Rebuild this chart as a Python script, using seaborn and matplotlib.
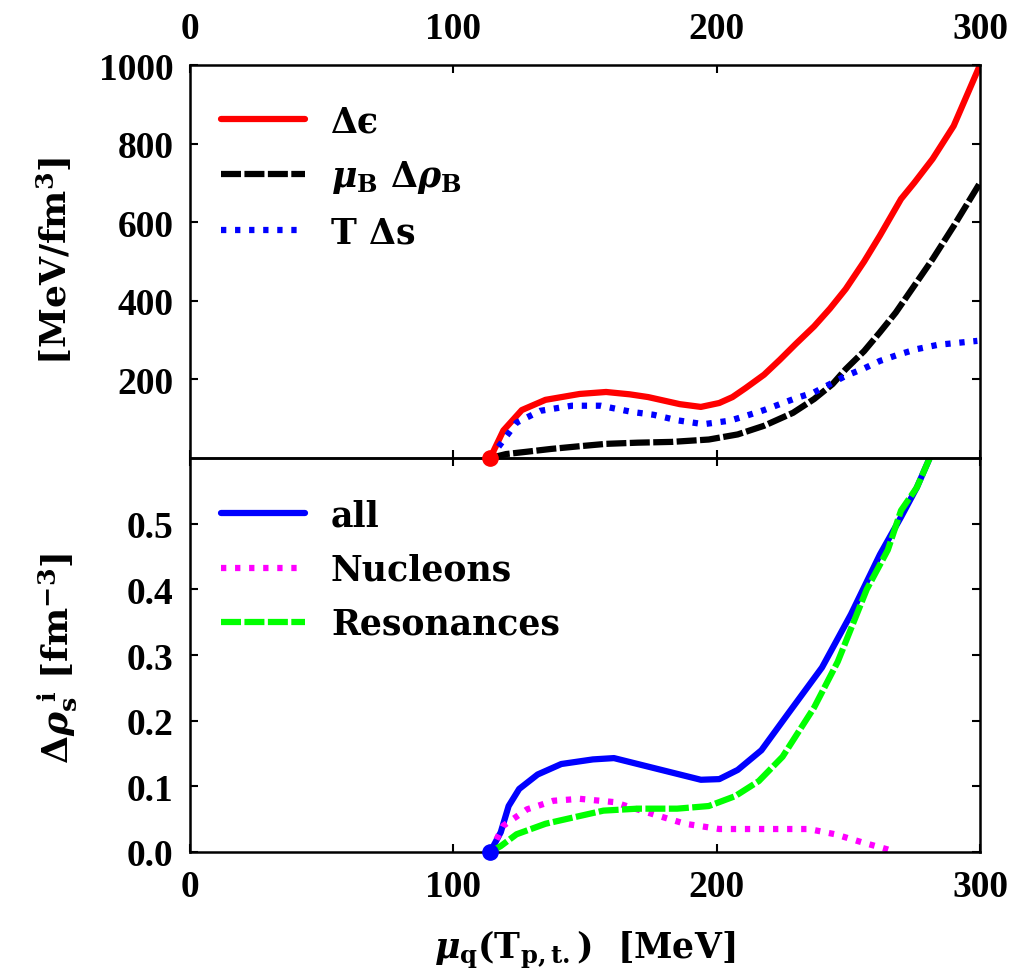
import numpy as np
import pandas as pd
import matplotlib
matplotlib.use("Agg")
import matplotlib.pyplot as plt
import seaborn as sns

# ---- upper panel: energy-density decomposition [MeV/fm^3] ----
mu_eps = [114, 119, 126, 135, 148, 158, 167, 174, 186, 194, 201, 206, 211,
          218, 224, 230, 237, 243, 249, 256, 262, 270, 275, 282, 290, 300]
d_eps = [0, 70, 122, 148, 163, 168, 162, 155, 137, 130, 140, 155, 178,
         212, 250, 290, 335, 380, 430, 500, 566, 659, 700, 761, 845, 1000]

mu_rho = [114, 120, 128, 137, 148, 158, 170, 183, 197, 208, 218, 229, 237,
          244, 249, 256, 262, 268, 275, 282, 290, 300]
mu_drho = [0, 10, 16, 23, 30, 36, 39, 41, 47, 60, 82, 115, 150,
           188, 226, 272, 320, 370, 438, 506, 590, 700]

mu_s = [114, 118, 124, 133, 145, 156, 168, 176, 185, 195, 205, 211, 218,
        224, 230, 237, 243, 249, 256, 262, 269, 276, 284, 299]
t_ds = [0, 36, 90, 120, 133, 133, 117, 110, 96, 86, 95, 107, 122,
        137, 152, 167, 188, 209, 228, 247, 263, 277, 288, 298]

# ---- lower panel: density differences [fm^-3] ----
mu_all = [114, 118, 121, 125, 132, 141, 153, 161, 170, 182, 194, 201, 208,
          217, 227, 240, 251, 262, 270, 276, 282]
rho_all = [0, 0.03, 0.07, 0.096, 0.118, 0.134, 0.141, 0.143, 0.134, 0.122,
           0.110, 0.111, 0.125, 0.155, 0.21, 0.281, 0.362, 0.453, 0.51, 0.555, 0.61]

mu_nuc = [114, 119, 128, 138, 148, 161, 173, 188, 201, 218, 235, 245, 255, 264, 268]
rho_nuc = [0, 0.04, 0.065, 0.078, 0.081, 0.076, 0.061, 0.043, 0.035, 0.035,
           0.035, 0.027, 0.015, 0.005, 0.0]

mu_res = [114, 118, 124, 135, 146, 157, 170, 185, 197, 207, 216, 225, 237,
          246, 257, 265, 270, 276, 282]
rho_res = [0, 0.009, 0.027, 0.043, 0.053, 0.063, 0.066, 0.066, 0.07, 0.085,
           0.108, 0.145, 0.22, 0.29, 0.40, 0.46, 0.52, 0.555, 0.61]

mu_start = 114

x_ticks = [0, 100, 200, 300]
top_yticks = [200, 400, 600, 800, 1000]
bot_yticks = [0.0, 0.1, 0.2, 0.3, 0.4, 0.5]

top_labels = ["Δϵ", r"$\mu_\mathbf{B}\ \Delta\rho_\mathbf{B}$", "T Δs"]
bot_labels = ["all", "Nucleons", "Resonances"]

sns.set_theme(style="white")
plt.rcParams.update({
    "font.family": ["DejaVu Serif", "DejaVu Sans"],
    "font.weight": "bold",
    "mathtext.fontset": "custom",
    "mathtext.rm": "DejaVu Serif:bold",
    "mathtext.it": "DejaVu Serif:italic:bold",
    "mathtext.bf": "DejaVu Serif:bold",
    "axes.edgecolor": "black",
    "axes.linewidth": 1.8,
    "text.color": "black",
    "axes.labelcolor": "black",
    "xtick.color": "black",
    "ytick.color": "black",
})

W, H = 1021, 979
fig = plt.figure(figsize=(W / 100, H / 100), dpi=100)
L, R, T, M, B = 190, 980, 66, 459, 853
ax2 = fig.add_axes([L / W, 1 - B / H, (R - L) / W, (B - M) / H])
ax1 = fig.add_axes([L / W, 1 - M / H, (R - L) / W, (M - T) / H])
ax1.set_facecolor("none")

LW = 4.5
tick_font = dict(family="Liberation Serif", weight="bold", size=27, color="black")

# upper panel curves
sns.lineplot(x=mu_eps, y=d_eps, ax=ax1, color="#ff0000", lw=LW,
             label=top_labels[0], solid_capstyle="round")
sns.lineplot(x=mu_rho, y=mu_drho, ax=ax1, color="black", lw=LW,
             linestyle=(0, (3.2, 0.55)), dash_capstyle="butt", label=top_labels[1])
sns.lineplot(x=mu_s, y=t_ds, ax=ax1, color="#0000ff", lw=LW,
             linestyle=(0, (0.85, 1.4)), dash_capstyle="butt", label=top_labels[2])
ax1.plot([mu_start], [0], "o", color="#ff0000", ms=11, clip_on=False, zorder=5)

# lower panel curves
sns.lineplot(x=mu_all, y=rho_all, ax=ax2, color="#0000ff", lw=LW,
             label=bot_labels[0])
sns.lineplot(x=mu_nuc, y=rho_nuc, ax=ax2, color="#ff00ff", lw=LW,
             linestyle=(0, (0.85, 1.4)), dash_capstyle="butt", label=bot_labels[1])
sns.lineplot(x=mu_res, y=rho_res, ax=ax2, color="#00ff00", lw=LW,
             linestyle=(0, (3.2, 0.55)), dash_capstyle="butt", label=bot_labels[2])
ax2.plot([mu_start], [0], "o", color="#0000ff", ms=11, clip_on=False, zorder=5)

for ax in (ax1, ax2):
    ax.set_xlim(0, 300)
    ax.set_xticks(x_ticks)
    ax.tick_params(direction="in", length=6, width=1.5, top=True, bottom=True,
                   left=True, right=True, colors="black")
    for sp in ax.spines.values():
        sp.set_visible(True)
        sp.set_color("black")
        sp.set_linewidth(1.8)
    ax.set_xlabel("")
    ax.set_ylabel("")
    ax.grid(False)

ax1.set_ylim(0, 1000)
ax1.set_yticks(top_yticks)
ax1.set_yticklabels([str(v) for v in top_yticks], fontdict=tick_font)
ax1.tick_params(axis="x", labeltop=True, labelbottom=False, pad=14)
ax1.set_xticklabels([str(v) for v in x_ticks], fontdict=tick_font)
ax1.tick_params(axis="y", pad=12)

ax2.set_ylim(0, 0.6)
ax2.set_yticks(bot_yticks)
ax2.set_yticklabels([f"{v:.1f}" for v in bot_yticks], fontdict=tick_font)
ax2.set_xticklabels([str(v) for v in x_ticks], fontdict=tick_font)
ax2.tick_params(axis="x", labeltop=False, labelbottom=True, pad=12)
ax2.tick_params(axis="y", pad=12)

leg_kw = dict(loc="upper left", frameon=False, fontsize=25, handlelength=2.42,
              handletextpad=0.75, labelspacing=0.58, borderpad=0, borderaxespad=0,
              labelcolor="black")
ax1.legend(bbox_to_anchor=(0.039, 0.90), **leg_kw)
ax2.legend(bbox_to_anchor=(0.039, 0.897), **leg_kw)

fig.text(54 / W, 1 - 261 / H, r"[MeV/fm$^\mathbf{3}$]", rotation=90,
         ha="center", va="center", fontsize=26)
fig.text(58 / W, 1 - 658 / H,
         r"$\Delta\rho_\mathbf{s}^{\ \mathbf{i}}$ [fm$^{\mathbf{-3}}$]",
         rotation=90, ha="center", va="center", fontsize=26)
fig.text(585 / W, 1 - 950 / H, r"$\mu_\mathbf{q}$(T$_\mathbf{p,t.}$)  [MeV]",
         ha="center", va="center", fontsize=25)

fig.savefig("out.png", dpi=100, facecolor="white")
